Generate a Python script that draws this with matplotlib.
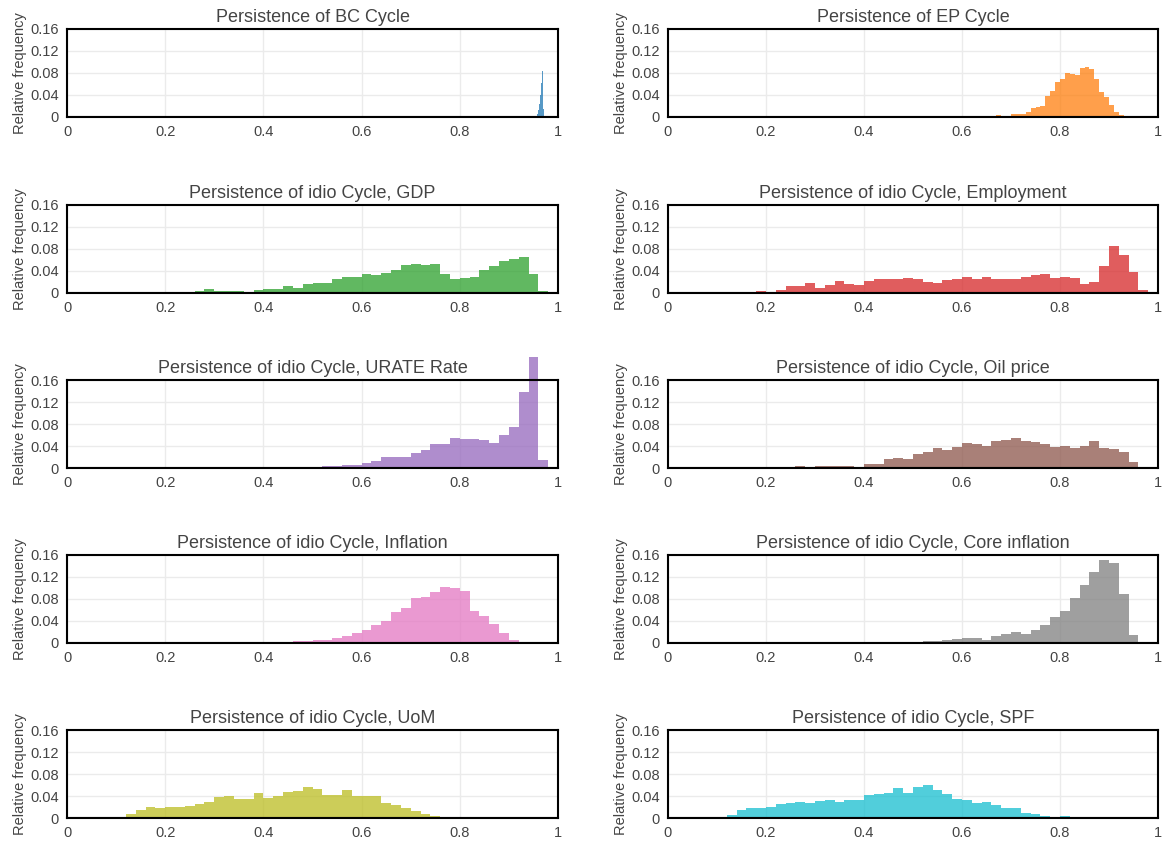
import matplotlib
matplotlib.use("Agg")
import matplotlib.pyplot as plt
import numpy as np

plt.rcParams['font.family'] = ['Liberation Sans', 'DejaVu Sans']

titles = [
    "Persistence of BC Cycle",
    "Persistence of EP Cycle",
    "Persistence of idio Cycle, GDP",
    "Persistence of idio Cycle, Employment",
    "Persistence of idio Cycle, URATE Rate",
    "Persistence of idio Cycle, Oil price",
    "Persistence of idio Cycle, Inflation",
    "Persistence of idio Cycle, Core inflation",
    "Persistence of idio Cycle, UoM",
    "Persistence of idio Cycle, SPF",
]

colors = ['#1f77b4', '#ff7f0e', '#2ca02c', '#d62728', '#9467bd',
          '#8c564b', '#e377c2', '#7f7f7f', '#bcbd22', '#17becf']

# (first bin left edge, bin width)
bins = [
    (0.9555, 0.0005),
    (0.60, 0.01),
    (0.22, 0.02),
    (0.18, 0.02),
    (0.40, 0.02),
    (0.20, 0.02),
    (0.32, 0.02),
    (0.20, 0.02),
    (0.10, 0.02),
    (0.10, 0.02),
]

bc_freq = [0.001, 0.002, 0.002, 0.003, 0.004, 0.005, 0.006, 0.008, 0.010, 0.012,
           0.014, 0.017, 0.020, 0.024, 0.028, 0.031, 0.036, 0.040, 0.045, 0.050,
           0.056, 0.062, 0.068, 0.074, 0.078, 0.083, 0.086, 0.080, 0.052, 0.015]

ep_freq = [0.0005, 0.0005, 0.0006, 0.0008, 0.001, 0.0008, 0.001,
           0.004, 0.0018, 0.0024, 0.0048, 0.0054, 0.006, 0.009, 0.0163, 0.0175,
           0.020, 0.0386, 0.0465, 0.0628, 0.070, 0.080, 0.0773, 0.0767, 0.0894,
           0.0912, 0.0876, 0.0682, 0.0459, 0.0368, 0.0211, 0.009, 0.003, 0.0006]

gdp_freq = [0.002, 0.0025, 0.003, 0.0066, 0.0036, 0.004, 0.004, 0.0012, 0.006,
            0.007, 0.0066, 0.012, 0.009, 0.0157, 0.0187, 0.018, 0.026, 0.030,
            0.029, 0.034, 0.032, 0.0356, 0.042, 0.051, 0.052, 0.0507, 0.052,
            0.034, 0.026, 0.028, 0.029, 0.041, 0.050, 0.059, 0.0616, 0.066,
            0.034, 0.003]

emp_freq = [0.003, 0.0024, 0.006, 0.012, 0.0127, 0.0175, 0.0097, 0.0139, 0.0223,
            0.0163, 0.0151, 0.0217, 0.0254, 0.0248, 0.026, 0.0266, 0.0248, 0.020,
            0.0187, 0.023, 0.0254, 0.0284, 0.0248, 0.0284, 0.0254, 0.0248, 0.0248,
            0.030, 0.032, 0.0338, 0.0266, 0.030, 0.0266, 0.0169, 0.0205, 0.050,
            0.0863, 0.0688, 0.0386, 0.006]

urate_freq = [0.0006, 0.0006, 0.0012, 0.0012, 0.0018, 0.0024, 0.004, 0.004,
              0.0054, 0.006, 0.0085, 0.012, 0.0193, 0.0193, 0.0205, 0.0278,
              0.0326, 0.0429, 0.0441, 0.0543, 0.0525, 0.0525, 0.0507, 0.0459,
              0.0604, 0.0737, 0.1377, 0.2023, 0.0139]

oil_freq = [0.0012, 0.0012, 0.0006, 0.003, 0.0024, 0.003, 0.0036, 0.004, 0.004,
            0.0024, 0.0066, 0.0079, 0.0157, 0.0175, 0.0163, 0.026, 0.030, 0.0356,
            0.0332, 0.038, 0.0453, 0.0429, 0.0405, 0.0489, 0.0507, 0.0543, 0.050,
            0.0465, 0.0435, 0.038, 0.0405, 0.0368, 0.0405, 0.0483, 0.0356, 0.035,
            0.0284, 0.0109]

infl_freq = [0.0006, 0.0012, 0.0018, 0.0018, 0.0018, 0.0024, 0.0024, 0.003,
             0.0036, 0.0048, 0.0054, 0.0085, 0.0133, 0.0187, 0.023, 0.032, 0.0405,
             0.0562, 0.064, 0.081, 0.0845, 0.0936, 0.1014, 0.1008, 0.0942, 0.0586,
             0.0483, 0.0338, 0.0187, 0.006, 0.0012, 0.0006]

core_freq = [0.0004, 0.0004, 0.0004, 0.0004, 0.0004, 0.0004, 0.0004, 0.0004,
             0.0004, 0.0004, 0.0006, 0.0006, 0.0012, 0.0018, 0.0018, 0.0024,
             0.003, 0.0036, 0.0048, 0.0079, 0.0085, 0.0097, 0.0048, 0.0127,
             0.0169, 0.0205, 0.0169, 0.023, 0.0332, 0.0471, 0.0574, 0.0815,
             0.1057, 0.1298, 0.1504, 0.1449, 0.090, 0.0151]

uom_freq = [0.0024, 0.0079, 0.0139, 0.0193, 0.0175, 0.0205, 0.020, 0.0211, 0.0248,
            0.030, 0.038, 0.0405, 0.035, 0.035, 0.0447, 0.0356, 0.0405, 0.0471,
            0.0483, 0.0568, 0.052, 0.0423, 0.041, 0.0507, 0.0399, 0.0405, 0.0393,
            0.0266, 0.0236, 0.0175, 0.0133, 0.0066, 0.003, 0.0024, 0.0018, 0.0012,
            0.0006, 0.0006]

spf_freq = [0.0012, 0.0054, 0.0139, 0.0175, 0.0175, 0.020, 0.0248, 0.0278, 0.0284,
            0.0272, 0.0308, 0.0332, 0.030, 0.032, 0.0332, 0.0411, 0.0435, 0.0453,
            0.0538, 0.0459, 0.0568, 0.0604, 0.0514, 0.0441, 0.0344, 0.0332, 0.0266,
            0.030, 0.023, 0.0187, 0.0175, 0.0091, 0.0066, 0.004, 0.0018, 0.004,
            0.0012, 0.0006, 0.0006]

freqs = [bc_freq, ep_freq, gdp_freq, emp_freq, urate_freq,
         oil_freq, infl_freq, core_freq, uom_freq, spf_freq]

xticks = [0, 0.2, 0.4, 0.6, 0.8, 1]
xtick_labels = ["0", "0.2", "0.4", "0.6", "0.8", "1"]
yticks = [0, 0.04, 0.08, 0.12, 0.16]
ytick_labels = ["0", "0.04", "0.08", "0.12", "0.16"]

W, H = 1169, 843
fig = plt.figure(figsize=(W / 100, H / 100), dpi=100)

col_left = [67, 668]
col_width = [491, 490]
row_top = [29, 205, 380, 555, 730]
ax_h = 88

text_col = '#444444'

for i, (title, color, (start, width), f) in enumerate(zip(titles, colors, bins, freqs)):
    r, c = divmod(i, 2)
    ax = fig.add_axes([col_left[c] / W, 1 - (row_top[r] + ax_h) / H,
                       col_width[c] / W, ax_h / H])
    edges = start + width * np.arange(len(f) + 1)
    # one filled step outline per histogram, so no seams between bins
    ax.stairs(f, edges, fill=True, color=color, alpha=0.75,
              linewidth=0, clip_on=False, zorder=2)
    ax.set_xlim(0, 1)
    ax.set_ylim(0, 0.16)
    ax.set_xticks(xticks)
    ax.set_xticklabels(xtick_labels)
    ax.set_yticks(yticks)
    ax.set_yticklabels(ytick_labels)
    ax.tick_params(length=0, labelsize=10.5, colors=text_col, pad=6)
    ax.grid(True, color='#ebebeb', linewidth=1, zorder=0)
    ax.set_axisbelow(True)
    for s in ax.spines.values():
        s.set_color('black')
        s.set_linewidth(1.5)
        s.set_zorder(3)
    ax.axhline(0, color='black', linewidth=2.2, zorder=4)
    ax.set_title(title, fontsize=13, color=text_col, pad=5)
    ax.set_ylabel("Relative frequency", fontsize=10.5, color=text_col, labelpad=2)

fig.savefig("out.png", dpi=100)
